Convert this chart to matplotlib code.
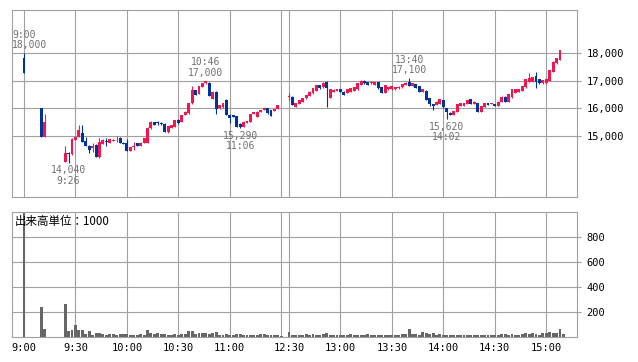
import matplotlib
matplotlib.use('Agg')
import matplotlib.pyplot as plt
import numpy as np

# ---------------- data (2-minute candles) ----------------
times = ["09:00", "09:10", "09:12", "09:24", "09:26", "09:28", "09:30", "09:32", "09:34", "09:36",
         "09:38", "09:40", "09:42", "09:44", "09:46", "09:48", "09:50", "09:52", "09:54", "09:56",
         "09:58", "10:00", "10:02", "10:04", "10:06", "10:08", "10:10", "10:12", "10:14", "10:16",
         "10:18", "10:20", "10:22", "10:24", "10:26", "10:28", "10:30", "10:32", "10:34", "10:36",
         "10:38", "10:40", "10:42", "10:44", "10:46", "10:48", "10:50", "10:52", "10:54", "10:56",
         "10:58", "11:00", "11:02", "11:04", "11:06", "11:08", "11:10", "11:12", "11:14", "11:16",
         "11:18", "11:20", "11:22", "11:24", "11:26", "11:28", "11:30",
         "12:30", "12:32", "12:34", "12:36", "12:38", "12:40", "12:42", "12:44", "12:46", "12:48",
         "12:50", "12:52", "12:54", "12:56", "12:58", "13:00", "13:02", "13:04", "13:06", "13:08",
         "13:10", "13:12", "13:14", "13:16", "13:18", "13:20", "13:22", "13:24", "13:26", "13:28",
         "13:30", "13:32", "13:34", "13:36", "13:38", "13:40", "13:42", "13:44", "13:46", "13:48",
         "13:50", "13:52", "13:54", "13:56", "13:58", "14:00", "14:02", "14:04", "14:06", "14:08",
         "14:10", "14:12", "14:14", "14:16", "14:18", "14:20", "14:22", "14:24", "14:26", "14:28",
         "14:30", "14:32", "14:34", "14:36", "14:38", "14:40", "14:42", "14:44", "14:46", "14:48",
         "14:50", "14:52", "14:54", "14:56", "14:58", "15:00", "15:02", "15:04", "15:06", "15:08",
         "15:10"]

opens = [17810, 16000, 14980, 14070, 14370, 14350, 14860, 14980, 15100, 14830,
         14650, 14560, 14680, 14250, 14710, 14800, 14760, 14820, 14880, 14940,
         14760, 14760, 14470, 14600, 14740, 14640, 14740, 14740, 15280, 15500,
         15490, 15460, 15440, 15130, 15300, 15340, 15580, 15500, 15760, 15820,
         16180, 16660, 16520, 16780, 16900, 16930, 16330, 16600, 16000, 16040,
         16300, 15760, 15760, 15720, 15450, 15340, 15480, 15520, 15790, 15700,
         15870, 15940, 16020, 15940, 15900, 15970, 16010,
         16400, 16420, 16060, 16150, 16240, 16360, 16450, 16540, 16640, 16840,
         16760, 16960, 16370, 16600, 16620, 16690, 16600, 16560, 16600, 16640,
         16690, 16840, 17000, 16960, 16910, 16840, 16960, 16760, 16570, 16690,
         16690, 16690, 16720, 16760, 16840, 16940, 16810, 16880, 16800, 16600,
         16640, 16360, 16160, 16120, 16160, 16300, 16000, 15840, 15760, 15880,
         16090, 16090, 16160, 16330, 16160, 16180, 15880, 16060, 16180, 16160,
         16160, 16090, 16240, 16420, 16240, 16400, 16570, 16600, 16640, 16760,
         16960, 16960, 17170, 17050, 16900, 16900, 17000, 17320, 17630, 17750,
         18320]

highs = [18000, 16010, 15800, 14650, 14430, 14920, 15000, 15400, 15400, 14980,
         14660, 14750, 14720, 14920, 14880, 14920, 14900, 14900, 15000, 14960,
         14780, 14900, 14620, 14800, 14760, 14770, 14930, 15310, 15530, 15520,
         15560, 15520, 15460, 15370, 15400, 15590, 15600, 15770, 15890, 16210,
         16820, 16680, 16820, 16920, 17000, 16950, 16610, 16620, 16130, 16210,
         16320, 15780, 15770, 15730, 15460, 15530, 15560, 15800, 15870, 15890,
         15950, 16010, 16030, 15950, 15980, 16130, 16010,
         16550, 16430, 16210, 16310, 16370, 16490, 16610, 16730, 16850, 16850,
         16940, 16990, 16700, 16700, 16700, 16700, 16610, 16700, 16730, 16770,
         16910, 17010, 17020, 16970, 16980, 16970, 16970, 16770, 16850, 16770,
         16820, 16770, 16790, 16890, 16940, 17100, 16910, 16890, 16810, 16700,
         16650, 16370, 16170, 16250, 16340, 16310, 16010, 15850, 15920, 16170,
         16190, 16210, 16310, 16340, 16250, 16190, 16100, 16190, 16190, 16190,
         16170, 16250, 16430, 16430, 16530, 16700, 16700, 16700, 16820, 17060,
         17270, 17150, 17320, 17060, 17030, 17060, 17400, 17700, 17820, 18120,
         18320]

lows = [17270, 14980, 14980, 14070, 14040, 14330, 14850, 14970, 14790, 14640,
        14380, 14420, 14240, 14200, 14700, 14640, 14750, 14810, 14800, 14750,
        14700, 14460, 14460, 14490, 14630, 14630, 14730, 14730, 15270, 15390,
        15400, 15380, 15140, 15120, 15290, 15330, 15450, 15490, 15750, 15810,
        16170, 16470, 16510, 16770, 16890, 16440, 16320, 15790, 15990, 16030,
        15750, 15460, 15690, 15330, 15290, 15330, 15470, 15510, 15780, 15690,
        15860, 15930, 15810, 15710, 15890, 15960, 16000,
        16300, 16110, 16040, 16140, 16230, 16350, 16440, 16530, 16630, 16710,
        16750, 16060, 16360, 16590, 16610, 16590, 16470, 16550, 16590, 16630,
        16680, 16830, 16890, 16830, 16880, 16830, 16710, 16560, 16560, 16680,
        16680, 16680, 16710, 16750, 16830, 16810, 16800, 16730, 16590, 16590,
        16290, 16090, 15930, 16110, 16150, 16030, 15620, 15750, 15750, 15870,
        16080, 16080, 16150, 16150, 16150, 15870, 15870, 16050, 16110, 16150,
        16080, 16080, 16230, 16230, 16230, 16390, 16560, 16590, 16630, 16750,
        16950, 16950, 16720, 16890, 16890, 16890, 16990, 17310, 17620, 17740,
        18310]

closes = [17270, 14980, 15520, 14380, 14350, 14910, 14980, 15220, 14800, 14650,
          14490, 14650, 14250, 14800, 14860, 14780, 14880, 14860, 14910, 14760,
          14710, 14470, 14610, 14640, 14640, 14760, 14920, 15300, 15520, 15400,
          15470, 15430, 15150, 15360, 15390, 15580, 15460, 15760, 15880, 16200,
          16650, 16480, 16810, 16910, 16980, 16450, 16600, 15980, 16120, 16200,
          15760, 15640, 15700, 15340, 15310, 15520, 15550, 15790, 15860, 15880,
          15940, 16000, 15820, 15720, 15970, 16120, 16000,
          16440, 16120, 16200, 16300, 16360, 16480, 16600, 16720, 16840, 16720,
          16930, 16720, 16690, 16680, 16690, 16600, 16480, 16690, 16720, 16760,
          16900, 17000, 16900, 16840, 16940, 16960, 16720, 16570, 16840, 16760,
          16810, 16760, 16780, 16880, 16930, 16820, 16900, 16740, 16600, 16690,
          16300, 16160, 16090, 16240, 16330, 16040, 15880, 15760, 15910, 16160,
          16180, 16200, 16300, 16160, 16240, 15880, 16090, 16180, 16120, 16180,
          16090, 16240, 16420, 16240, 16520, 16690, 16690, 16690, 16810, 17050,
          17090, 17140, 16960, 16900, 17020, 17050, 17390, 17690, 17810, 18110,
          18310]

volumes = [1500, 240, 64, 264, 48, 56, 96, 56, 56, 24,
           48, 16, 35, 32, 24, 16, 24, 24, 16, 24,
           24, 24, 16, 16, 16, 24, 16, 56, 32, 24,
           32, 24, 24, 16, 16, 24, 16, 24, 24, 48,
           48, 24, 32, 32, 32, 24, 32, 40, 16, 16,
           24, 16, 16, 24, 24, 16, 16, 16, 16, 16,
           24, 24, 16, 16, 16, 16, 8,
           43, 16, 16, 16, 16, 24, 16, 24, 16, 16,
           24, 32, 16, 16, 16, 16, 16, 16, 24, 16,
           16, 16, 16, 24, 16, 16, 16, 16, 16, 16,
           16, 16, 16, 24, 24, 64, 24, 24, 16, 40,
           35, 24, 35, 16, 24, 16, 16, 16, 16, 16,
           16, 16, 16, 16, 16, 16, 16, 16, 16, 16,
           16, 16, 24, 24, 16, 24, 16, 16, 24, 35,
           24, 29, 24, 16, 29, 35, 40, 35, 35, 64,
           24]

price_ticks = [15000, 16000, 17000, 18000]
volume_ticks = [200, 400, 600, 800]
grid_times = ["09:00", "09:30", "10:00", "10:30", "11:00", "11:30",
              "12:30", "13:00", "13:30", "14:00", "14:30", "15:00"]
grid_labels = ["9:00", "9:30", "10:00", "10:30", "11:00", "",
               "12:30", "13:00", "13:30", "14:00", "14:30", "15:00"]

ann_times = ["09:00", "09:26", "10:46", "11:06", "13:40", "14:02"]
ann_kinds = ["high", "low", "high", "low", "high", "low"]
volume_unit_label = "出来高単位：1000"

# ---------------- styling ----------------
RED = "#f0174f"
BLUE = "#003399"
VOLC = "#666666"
GRID = "#a0a0a0"
ANNC = "#707070"
MONO = "DejaVu Sans Mono"
LUNCH_SHIFT = 55.5   # compress lunch break (60 min -> 4.5 units)


def tpos(t):
    h, m = map(int, t.split(":"))
    mins = (h - 9) * 60 + m
    return mins if mins <= 150 else mins - LUNCH_SHIFT


x = np.array([tpos(t) for t in times])
O = np.array(opens, float)
H = np.array(highs, float)
L = np.array(lows, float)
C = np.array(closes, float)
V = np.array(volumes, float)
cols = np.where(C > O, RED, BLUE)

W, Hh = 638, 362
fig = plt.figure(figsize=(W / 100, Hh / 100), dpi=100)
ax1 = fig.add_axes([12 / W, 1 - 197 / Hh, 565 / W, 187 / Hh])
ax2 = fig.add_axes([12 / W, 1 - 337 / Hh, 565 / W, 125 / Hh])

xlim = (-7, 322.4)
gx = [tpos(t) for t in grid_times]

for ax in (ax1, ax2):
    ax.set_xlim(*xlim)
    ax.set_axisbelow(True)
    ax.set_xticks(gx)
    ax.grid(True, color=GRID, lw=0.8)
    for s in ax.spines.values():
        s.set_color(GRID)
        s.set_linewidth(0.8)
    ax.yaxis.tick_right()
    ax.tick_params(axis="y", length=3, width=0.8, color=GRID, pad=4,
                   labelsize=7.5, labelcolor="black")
    ax.tick_params(axis="x", length=0)
    ax.set_facecolor("white")

# candles
ax1.vlines(x, L, H, colors=cols, lw=0.8)
ax1.bar(x, np.maximum(np.abs(C - O), 30), bottom=np.minimum(O, C), width=1.7,
        color=cols, linewidth=0)
ax1.set_ylim(12796, 19554)
ax1.set_yticks(price_ticks)
ax1.set_yticklabels([f"{v:,}" for v in price_ticks], family=MONO)
ax1.set_xticklabels([])

# annotations
for t, kind in zip(ann_times, ann_kinds):
    i = times.index(t)
    lbl = t.lstrip("0")
    if kind == "high":
        p = H[i]
        txt = f"{lbl}\n{int(p):,}"
        off, va = 2, "bottom"
    else:
        p = L[i]
        txt = f"{int(p):,}\n{lbl}"
        off, va = -2, "top"
    xx, ha = x[i], "center"
    if xx - 10 < xlim[0]:
        xx, ha = xlim[0] + 0.2, "left"
    ax1.annotate(txt, (xx, p), xytext=(0, off), textcoords="offset points",
                 ha=ha, va=va, fontsize=7, color=ANNC, family=MONO,
                 linespacing=1.05, multialignment="center" if ha == "center" else "left")

# volume
ax2.bar(x, V, width=1.7, color=VOLC, linewidth=0)
ax2.set_ylim(0, 1000)
ax2.set_yticks(volume_ticks)
ax2.set_yticklabels([str(v) for v in volume_ticks], family=MONO)
ax2.set_xticklabels(grid_labels, family=MONO, fontsize=7.5)
ax2.tick_params(axis="x", pad=4)
ax2.text(3 / 565, 1 - 10 / 125, volume_unit_label, transform=ax2.transAxes,
         ha="left", va="center", fontsize=8.3,
         family=["Noto Sans CJK JP", "DejaVu Sans"])

fig.savefig("out.png", dpi=100, facecolor="white")
